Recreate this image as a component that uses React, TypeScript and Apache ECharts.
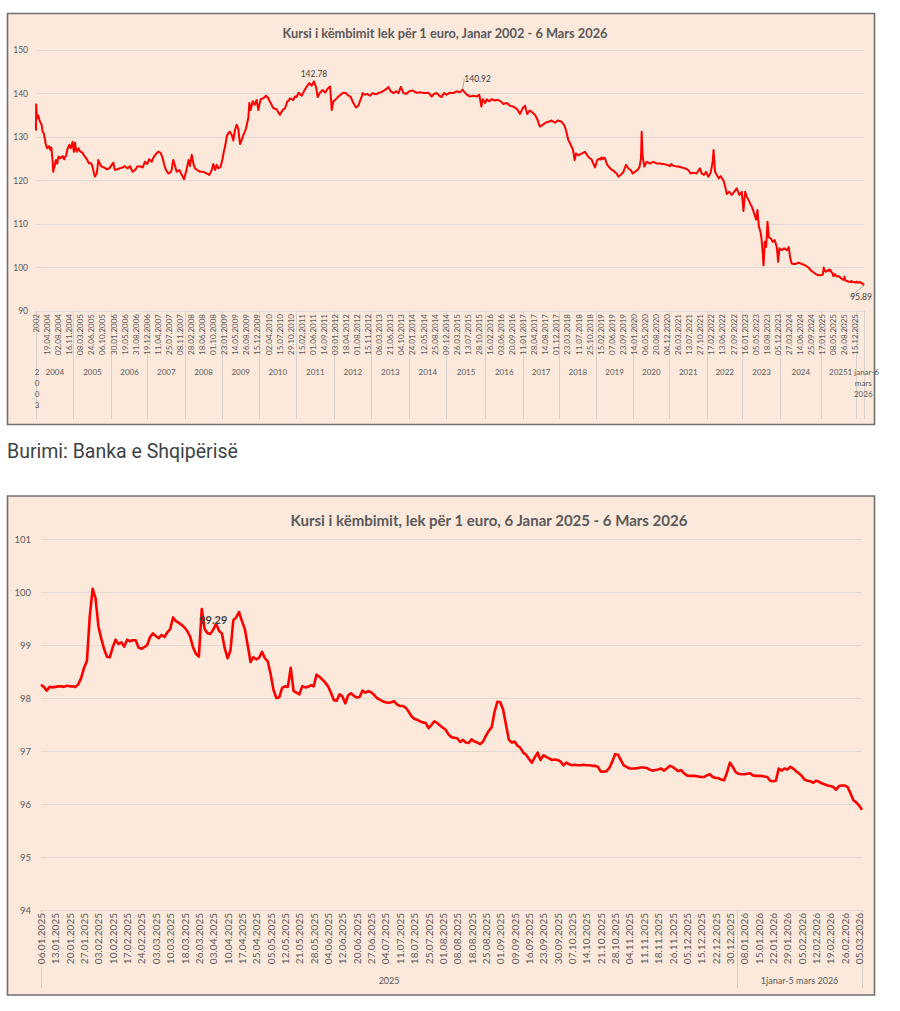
import React, { useEffect, useRef } from 'react';
import * as echarts from 'echarts';

const TOP_TITLE = 'Kursi i këmbimit lek për 1 euro, Janar 2002 - 6 Mars 2026';
const BOTTOM_TITLE = 'Kursi i këmbimit, lek për 1 euro, 6 Janar 2025 - 6 Mars 2026';
const SOURCE = 'Burimi: Banka e Shqipërisë';

// ---------- Top chart (2002 - 6 Mars 2026), x = observation index ----------
const TOP_STEP = 75;
const TOP_LAST = 5609;
const topDateLabels = ['2002','19.04.2004','02.08.2004','16.11.2004','08.03.2005','24.06.2005','06.10.2005','30.01.2006','19.05.2006','31.08.2006','19.12.2006','11.04.2007','25.07.2007','08.11.2007','28.02.2008','18.06.2008','01.10.2008','23.01.2009','14.05.2009','26.08.2009','15.12.2009','02.04.2010','15.07.2010','29.10.2010','15.02.2011','01.06.2011','14.09.2011','03.01.2012','18.04.2012','01.08.2012','15.11.2012','06.03.2013','21.06.2013','04.10.2013','24.01.2014','12.05.2014','25.08.2014','09.12.2014','26.03.2015','13.07.2015','28.10.2015','16.02.2016','03.06.2016','20.09.2016','11.01.2017','28.04.2017','14.08.2017','01.12.2017','23.03.2018','11.07.2018','25.10.2018','15.02.2019','07.06.2019','23.09.2019','14.01.2020','06.05.2020','20.08.2020','04.12.2020','26.03.2021','13.07.2021','27.10.2021','17.02.2022','13.06.2022','27.09.2022','16.01.2023','05.05.2023','18.08.2023','05.12.2023','27.03.2024','14.06.2024','25.09.2024','17.01.2025','08.05.2025','26.08.2025','15.12.2025'];
const topYearBounds = [0, 255, 510, 757, 1009, 1262, 1511, 1765, 2019, 2273, 2527, 2781, 3046, 3298, 3546, 3795, 4044, 4292, 4545, 4786, 5044, 5318, 5558, 5609];
const topYearNames = ['2\n0\n0\n3','2004','2005','2006','2007','2008','2009','2010','2011','2012','2013','2014','2015','2016','2017','2018','2019','2020','2021','2022','2023','2024','2025','1 janar-6\nmars\n2026'];
const topYearTicks = [8, 127.5, 382.5, 633.5, 883, 1135.5, 1386.5, 1638, 1892, 2146, 2400, 2654, 2913.5, 3172, 3422, 3670.5, 3919.5, 4168, 4418.5, 4665.5, 4915, 5181, 5435, 5604];
const topMarked = [142.78, 140.92, 95.89];

const topRate: [number, number][] = [[0,131.5],[1,137.5],[5,135.2],[9,134.3],[14,135.0],[18,134.7],[23,134.0],[27,133.5],[33,133.2],[38,132.8],[45,131.2],[50,131.0],[54,130.7],[58,129.8],[61,129.5],[65,128.5],[68,128.2],[73,127.6],[77,127.4],[84,127.7],[90,127.9],[95,127.3],[99,127.0],[104,127.6],[108,127.6],[112,124.7],[117,122.0],[121,122.8],[126,123.2],[131,124.2],[135,124.7],[140,124.2],[144,123.9],[149,125.0],[153,125.5],[160,125.1],[167,125.1],[174,125.5],[181,125.6],[187,125.0],[192,124.9],[198,125.5],[203,125.6],[209,126.6],[215,127.4],[220,127.8],[226,128.2],[231,127.6],[235,127.4],[241,128.0],[248,128.9],[253,127.5],[257,126.6],[261,127.8],[264,128.7],[270,127.4],[276,126.6],[282,127.0],[289,127.4],[296,126.8],[303,126.6],[310,126.5],[316,126.3],[324,125.8],[332,125.5],[340,125.1],[348,124.7],[354,124.2],[361,123.9],[369,124.0],[377,123.8],[383,123.1],[388,122.4],[394,121.5],[400,120.9],[406,121.3],[411,121.6],[417,123.0],[422,124.7],[428,124.2],[434,123.8],[440,123.4],[445,123.2],[453,123.1],[461,123.0],[470,122.8],[479,122.6],[488,122.7],[497,122.8],[505,123.2],[513,123.6],[519,123.9],[524,124.1],[530,123.0],[535,122.4],[543,122.5],[551,122.6],[560,122.7],[569,122.8],[578,122.9],[587,123.0],[595,123.2],[603,123.3],[611,123.0],[619,122.8],[628,123.0],[637,123.3],[646,122.6],[655,122.0],[663,122.2],[671,122.4],[679,122.8],[686,123.2],[695,123.2],[704,123.3],[714,123.1],[723,123.0],[731,123.7],[738,124.3],[746,124.0],[754,123.8],[760,124.4],[767,124.9],[776,124.6],[784,124.3],[792,125.0],[799,125.5],[806,125.8],[813,126.1],[821,126.4],[829,126.6],[837,126.5],[845,126.3],[852,125.7],[858,125.1],[863,124.4],[867,123.8],[874,123.1],[881,122.4],[889,122.0],[896,121.6],[902,121.7],[908,121.8],[914,122.1],[919,122.4],[925,123.8],[930,124.7],[936,124.0],[942,123.3],[948,122.6],[953,122.0],[962,122.2],[971,122.4],[979,121.9],[987,121.3],[995,120.8],[1003,120.3],[1010,121.2],[1016,122.0],[1021,122.7],[1025,123.3],[1030,124.0],[1034,124.7],[1039,124.0],[1043,123.3],[1049,124.6],[1055,125.9],[1061,124.9],[1066,123.9],[1071,123.3],[1077,122.8],[1085,122.6],[1093,122.4],[1102,122.2],[1111,122.0],[1122,122.0],[1134,122.0],[1145,121.8],[1156,121.6],[1165,121.5],[1174,121.3],[1182,121.8],[1190,122.4],[1196,123.1],[1201,123.8],[1207,123.1],[1213,122.4],[1219,123.0],[1224,123.6],[1230,123.2],[1235,122.8],[1243,123.0],[1251,123.2],[1257,124.0],[1262,124.7],[1268,125.8],[1274,126.9],[1279,127.6],[1283,128.2],[1288,129.2],[1292,130.1],[1298,130.5],[1303,130.9],[1309,131.1],[1314,131.2],[1320,130.8],[1326,130.5],[1332,129.8],[1337,129.2],[1342,130.4],[1348,131.6],[1354,132.2],[1359,132.8],[1365,132.4],[1370,132.0],[1376,130.2],[1382,128.4],[1388,128.8],[1393,129.3],[1399,129.9],[1405,130.5],[1414,131.2],[1423,132.0],[1430,133.1],[1438,134.3],[1442,136.0],[1445,137.8],[1450,137.0],[1454,136.2],[1461,137.2],[1468,138.2],[1474,137.8],[1481,137.4],[1488,138.0],[1495,138.5],[1500,137.4],[1506,136.2],[1514,137.5],[1522,138.7],[1531,138.8],[1540,138.9],[1549,139.2],[1558,139.5],[1566,139.2],[1574,138.9],[1582,138.3],[1590,137.8],[1599,137.2],[1608,136.6],[1619,136.5],[1630,136.4],[1641,135.7],[1653,135.1],[1662,135.7],[1671,136.2],[1679,136.4],[1687,136.6],[1695,137.4],[1702,138.2],[1709,138.2],[1716,138.6],[1721,138.9],[1732,138.7],[1743,138.5],[1754,139.3],[1766,139.2],[1777,140.1],[1784,140.1],[1792,139.7],[1800,139.5],[1808,140.0],[1815,140.5],[1825,141.1],[1834,141.6],[1843,142.0],[1851,142.4],[1859,142.1],[1867,141.8],[1875,142.3],[1883,142.78],[1890,142.1],[1897,141.5],[1903,140.3],[1908,139.2],[1916,139.7],[1924,140.2],[1933,140.5],[1942,140.8],[1950,140.5],[1958,140.2],[1966,140.6],[1973,141.0],[1982,141.3],[1992,141.6],[1998,139.0],[2003,136.2],[2009,137.2],[2014,138.2],[2023,138.4],[2032,138.7],[2040,139.0],[2048,139.3],[2056,139.5],[2064,139.7],[2073,140.0],[2082,140.2],[2091,140.1],[2100,140.1],[2108,139.8],[2116,139.5],[2124,139.4],[2132,139.2],[2141,138.5],[2150,137.8],[2159,137.3],[2168,136.8],[2176,137.0],[2184,137.2],[2192,138.0],[2200,138.7],[2207,139.4],[2213,140.1],[2221,139.9],[2229,139.7],[2236,139.8],[2244,139.9],[2253,139.7],[2263,139.5],[2272,139.8],[2281,140.1],[2292,139.9],[2303,139.8],[2314,140.0],[2326,140.2],[2337,140.3],[2348,140.5],[2360,140.7],[2371,141.0],[2379,141.2],[2387,141.5],[2395,141.0],[2403,140.5],[2412,140.3],[2420,140.1],[2430,140.3],[2439,140.5],[2447,140.3],[2455,140.1],[2463,140.8],[2472,141.5],[2480,140.8],[2488,140.2],[2497,140.0],[2506,139.9],[2518,140.2],[2529,140.5],[2540,140.6],[2551,140.7],[2565,140.4],[2579,140.2],[2590,140.2],[2601,140.3],[2615,140.2],[2628,140.1],[2643,140.1],[2658,140.2],[2669,139.8],[2680,139.3],[2688,139.6],[2696,139.9],[2705,140.0],[2714,140.1],[2723,139.8],[2732,139.5],[2740,139.3],[2748,139.2],[2756,139.7],[2764,140.1],[2773,139.9],[2782,139.7],[2793,140.0],[2804,140.2],[2816,140.1],[2827,140.1],[2838,140.3],[2850,140.5],[2861,140.4],[2872,140.3],[2881,140.6],[2890,140.92],[2898,140.5],[2906,140.2],[2914,139.9],[2921,139.7],[2930,139.5],[2939,139.3],[2950,139.4],[2962,139.5],[2973,139.4],[2985,139.3],[2994,139.5],[3003,139.7],[3010,138.4],[3017,137.0],[3022,137.9],[3026,138.7],[3034,138.3],[3042,137.8],[3048,138.2],[3053,138.7],[3062,138.4],[3071,138.2],[3079,138.5],[3087,138.7],[3098,138.5],[3109,138.4],[3120,138.5],[3132,138.5],[3140,138.3],[3148,138.2],[3157,137.9],[3166,137.6],[3177,137.7],[3189,137.8],[3200,137.5],[3211,137.2],[3222,137.1],[3233,137.0],[3246,136.7],[3260,136.4],[3270,135.8],[3279,135.3],[3288,136.0],[3297,136.6],[3305,136.9],[3313,137.2],[3320,136.2],[3328,135.3],[3337,135.7],[3346,136.1],[3356,135.8],[3365,135.6],[3372,135.3],[3380,135.1],[3388,134.6],[3396,134.1],[3405,133.2],[3414,132.4],[3424,132.6],[3433,132.8],[3440,133.0],[3448,133.2],[3460,133.4],[3471,133.5],[3482,133.6],[3493,133.8],[3505,133.5],[3516,133.3],[3527,133.6],[3538,133.8],[3550,133.6],[3561,133.5],[3569,133.1],[3577,132.8],[3584,132.2],[3590,131.6],[3598,130.4],[3606,129.3],[3614,128.8],[3622,128.2],[3629,127.7],[3636,127.2],[3643,126.0],[3649,124.7],[3654,125.5],[3658,126.2],[3666,126.0],[3674,125.8],[3685,126.0],[3696,126.2],[3708,126.4],[3719,126.6],[3730,126.0],[3741,125.5],[3752,125.1],[3764,124.8],[3775,123.9],[3787,123.0],[3795,123.9],[3802,124.7],[3812,125.0],[3821,124.8],[3830,125.3],[3839,124.9],[3846,125.2],[3855,125.1],[3862,124.3],[3870,123.6],[3880,123.2],[3889,122.8],[3900,122.5],[3911,122.3],[3922,121.9],[3934,121.6],[3940,121.2],[3945,120.9],[3953,121.1],[3961,121.3],[3970,121.6],[3979,122.0],[3988,122.8],[3997,123.6],[4005,123.2],[4012,122.8],[4020,122.6],[4028,122.4],[4035,122.0],[4042,121.6],[4050,121.8],[4058,122.0],[4066,122.2],[4073,122.4],[4080,122.7],[4087,123.0],[4093,124.0],[4098,125.1],[4101,128.5],[4103,131.2],[4106,128.0],[4110,125.5],[4115,124.4],[4121,123.2],[4129,123.8],[4137,124.3],[4148,124.1],[4159,123.9],[4170,124.1],[4182,124.3],[4193,124.1],[4205,123.9],[4216,123.9],[4227,123.9],[4238,123.8],[4250,123.8],[4261,123.7],[4272,123.6],[4283,123.5],[4295,123.3],[4303,123.8],[4312,123.5],[4320,123.4],[4329,123.3],[4340,123.2],[4352,123.2],[4363,123.1],[4374,123.0],[4385,122.9],[4397,122.8],[4408,122.6],[4419,122.4],[4427,122.0],[4435,121.6],[4444,121.7],[4453,121.8],[4464,121.7],[4475,121.6],[4486,122.2],[4498,122.8],[4504,122.2],[4509,121.6],[4517,121.5],[4525,121.3],[4532,121.6],[4539,122.0],[4547,121.4],[4554,120.9],[4562,121.3],[4570,121.8],[4577,123.0],[4584,124.3],[4590,127.0],[4595,124.5],[4600,122.0],[4606,121.6],[4611,121.3],[4618,120.9],[4625,120.5],[4632,120.8],[4638,121.0],[4647,120.5],[4656,120.1],[4662,119.4],[4668,118.7],[4674,117.8],[4679,116.9],[4688,117.2],[4697,117.4],[4705,117.0],[4713,116.7],[4721,117.0],[4729,117.4],[4738,117.8],[4747,118.2],[4756,117.4],[4765,116.7],[4773,117.0],[4781,117.4],[4787,115.2],[4792,113.0],[4798,115.2],[4804,117.4],[4810,116.8],[4815,116.3],[4824,115.7],[4833,115.1],[4841,114.5],[4849,114.0],[4857,113.2],[4865,112.4],[4872,111.7],[4878,111.0],[4883,112.1],[4887,113.2],[4892,111.3],[4897,109.4],[4904,108.6],[4910,107.8],[4915,106.5],[4919,105.1],[4924,102.8],[4928,100.5],[4933,103.2],[4937,105.9],[4942,105.3],[4946,104.7],[4951,107.6],[4955,110.5],[4960,108.8],[4964,107.0],[4970,106.8],[4977,106.7],[4984,106.3],[4991,105.9],[4998,106.1],[5004,106.3],[5011,105.5],[5018,104.7],[5023,103.0],[5027,101.3],[5032,102.8],[5036,104.4],[5044,104.2],[5052,104.0],[5060,104.2],[5068,104.4],[5077,104.2],[5086,104.0],[5093,104.3],[5099,104.7],[5104,103.5],[5108,102.4],[5114,101.6],[5119,100.9],[5131,100.8],[5142,100.8],[5153,100.9],[5164,101.1],[5176,101.0],[5187,100.8],[5198,100.7],[5209,100.5],[5220,100.3],[5232,100.0],[5243,99.6],[5254,99.2],[5266,98.9],[5277,98.6],[5288,98.4],[5299,98.2],[5308,98.3],[5318,98.2],[5325,98.25],[5331,98.5],[5336,100.0],[5340,99.6],[5344,99.2],[5351,99.0],[5358,99.2],[5366,99.45],[5372,99.2],[5378,99.5],[5384,99.3],[5390,98.8],[5396,98.7],[5401,98.0],[5406,98.2],[5412,98.5],[5418,98.1],[5424,97.95],[5432,98.05],[5440,97.9],[5446,97.8],[5452,97.55],[5458,97.45],[5464,97.25],[5471,97.15],[5474,97.3],[5477,97.9],[5480,97.3],[5484,97.1],[5488,96.9],[5494,96.9],[5500,96.8],[5508,96.73],[5516,96.72],[5520,96.62],[5524,96.9],[5530,96.7],[5538,96.68],[5546,96.62],[5552,96.5],[5556,96.45],[5558,96.78],[5562,96.56],[5570,96.52],[5574,96.44],[5576,96.67],[5582,96.65],[5588,96.45],[5594,96.4],[5599,96.33],[5602,96.3],[5605,96.1],[5609,95.89]];

// ---------- Bottom chart (6 Janar 2025 - 6 Mars 2026), x = business-day index ----------
const BOTTOM_STEP = 5;
const BOTTOM_LAST = 286;
const bottomDateLabels = ['06.01.2025','13.01.2025','20.01.2025','27.01.2025','03.02.2025','10.02.2025','17.02.2025','24.02.2025','03.03.2025','10.03.2025','18.03.2025','26.03.2025','03.04.2025','10.04.2025','17.04.2025','25.04.2025','05.05.2025','12.05.2025','21.05.2025','28.05.2025','04.06.2025','12.06.2025','20.06.2025','27.06.2025','04.07.2025','11.07.2025','18.07.2025','25.07.2025','01.08.2025','08.08.2025','18.08.2025','25.08.2025','01.09.2025','09.09.2025','16.09.2025','23.09.2025','30.09.2025','07.10.2025','14.10.2025','21.10.2025','28.10.2025','04.11.2025','11.11.2025','18.11.2025','26.11.2025','05.12.2025','15.12.2025','22.12.2025','30.12.2025','08.01.2026','15.01.2026','22.01.2026','29.01.2026','05.02.2026','12.02.2026','19.02.2026','26.02.2026','05.03.2026'];
const bottomYearBounds = [0, 242.5, 286];
const bottomYearTicks = [121.25, 264.25];
const bottomYearNames = ['2025', '1janar-5 mars 2026'];
const bottomMarked = [99.29];

const bottomRate = [
  98.25,98.21,98.14,98.21,98.20,98.21,98.22,98.22,98.21,98.23,
  98.22,98.22,98.21,98.26,98.38,98.57,98.70,99.55,100.06,99.88,
  99.35,99.12,98.92,98.78,98.77,98.96,99.10,99.02,99.05,98.97,
  99.10,99.07,99.09,99.09,98.95,98.93,98.96,99.00,99.15,99.22,
  99.17,99.13,99.19,99.15,99.24,99.30,99.52,99.45,99.42,99.38,
  99.33,99.26,99.15,98.95,98.83,98.78,99.68,99.30,99.22,99.21,
  99.29,99.40,99.27,99.22,98.94,98.75,98.90,99.47,99.52,99.62,
  99.45,99.30,99.00,98.68,98.77,98.73,98.76,98.87,98.75,98.69,
  98.45,98.15,98.00,98.01,98.19,98.22,98.21,98.57,98.13,98.10,
  98.07,98.22,98.20,98.21,98.24,98.22,98.44,98.40,98.35,98.29,
  98.22,98.10,97.96,97.95,98.07,98.03,97.90,98.05,98.09,98.04,
  98.01,98.02,98.14,98.10,98.13,98.11,98.06,98.00,97.97,97.94,
  97.92,97.91,97.92,97.94,97.88,97.85,97.85,97.82,97.75,97.66,
  97.61,97.59,97.56,97.54,97.53,97.43,97.49,97.56,97.53,97.48,
  97.44,97.40,97.31,97.26,97.25,97.24,97.17,97.21,97.16,97.15,
  97.22,97.18,97.16,97.13,97.18,97.29,97.38,97.45,97.74,97.93,
  97.92,97.78,97.49,97.21,97.16,97.18,97.10,97.06,96.97,96.93,
  96.85,96.78,96.88,96.97,96.83,96.92,96.89,96.86,96.83,96.84,
  96.83,96.80,96.73,96.78,96.75,96.73,96.74,96.73,96.73,96.74,
  96.73,96.73,96.72,96.72,96.70,96.61,96.61,96.62,96.68,96.80,
  96.94,96.93,96.83,96.73,96.70,96.67,96.67,96.67,96.68,96.69,
  96.69,96.68,96.65,96.63,96.64,96.65,96.67,96.63,96.67,96.72,
  96.70,96.66,96.62,96.64,96.58,96.54,96.53,96.53,96.53,96.52,
  96.51,96.51,96.54,96.56,96.51,96.49,96.49,96.46,96.45,96.60,
  96.78,96.70,96.60,96.57,96.56,96.56,96.57,96.58,96.54,96.53,
  96.53,96.53,96.52,96.51,96.44,96.43,96.44,96.67,96.63,96.67,
  96.65,96.70,96.67,96.62,96.58,96.53,96.46,96.44,96.43,96.40,
  96.44,96.42,96.39,96.37,96.35,96.34,96.32,96.27,96.34,96.35,
  96.35,96.32,96.20,96.07,96.03,95.97,95.89,
];

// ---------- styling ----------
const PANEL_BG = '#fce9dc';
const PANEL_EDGE = '#707070';
const GRID_LINE = '#e2dad2';
const SEP_LINE = '#d8d0c9';
const TXT = '#595959';
const RED = '#ff0000';
const FONT = 'Lato';

const near = (a: number, b: number) => Math.abs(a - b) < 1e-6;
const stepLabel = (list: string[], step: number) => (v: number) => {
  const k = Math.round(v / step);
  return near(v, k * step) && k >= 0 && k < list.length ? list[k] : '';
};
const pickLabel = (ticks: number[], names: string[]) => (v: number) => {
  const i = ticks.findIndex((t) => near(t, v));
  return i >= 0 ? names[i] : '';
};

function buildOption(): any {
  const topData = topRate.map(([x, y]) => {
    if (!topMarked.includes(y)) return [x, y];
    const isEnd = y === 95.89;
    return {
      value: [x, y],
      label: {
        show: true,
        position: isEnd ? 'bottom' : 'top',
        distance: isEnd ? 5 : 3,
        fontSize: 8.5,
        color: '#404040',
        fontFamily: FONT,
        formatter: (p: any) => p.value[1].toFixed(2),
      },
      labelLine: y === 142.78 ? { show: false } : { show: true, lineStyle: { color: '#9a9a9a', width: 0.8 } },
    };
  });
  const bottomData = bottomRate.map((y, i) => {
    if (!bottomMarked.includes(y)) return [i, y];
    return {
      value: [i, y],
      label: {
        show: true,
        position: 'top',
        distance: 5,
        fontSize: 11,
        fontWeight: 'bold',
        color: '#404040',
        fontFamily: FONT,
        formatter: (p: any) => p.value[1].toFixed(2),
      },
    };
  });

  return {
    animation: false,
    textStyle: { fontFamily: FONT },
    graphic: [
      { type: 'rect', z: -10, silent: true, shape: { x: 7.5, y: 13.5, width: 867, height: 411 }, style: { fill: PANEL_BG, stroke: PANEL_EDGE, lineWidth: 1.6 } },
      { type: 'rect', z: -10, silent: true, shape: { x: 7.5, y: 496, width: 867, height: 499 }, style: { fill: PANEL_BG, stroke: PANEL_EDGE, lineWidth: 1.6 } },
      { type: 'text', x: 445, y: 33, style: { text: TOP_TITLE, fontSize: 12.8, fontWeight: 'bold', fontFamily: FONT, fill: TXT, align: 'center', verticalAlign: 'middle', textAlign: 'center', textVerticalAlign: 'middle' } },
      { type: 'text', x: 489, y: 520, style: { text: BOTTOM_TITLE, fontSize: 15, fontWeight: 'bold', fontFamily: FONT, fill: TXT, align: 'center', verticalAlign: 'middle', textAlign: 'center', textVerticalAlign: 'middle' } },
      { type: 'text', x: 7, y: 451, style: { text: SOURCE, fontSize: 19.5, fontFamily: 'Roboto', fill: '#3d4249', align: 'left', verticalAlign: 'middle', textAlign: 'left', textVerticalAlign: 'middle' } },
    ],
    grid: [
      { left: 36, top: 50, width: 828, height: 261 },
      { left: 41, top: 539, width: 821, height: 371 },
    ],
    xAxis: [
      {
        type: 'value', gridIndex: 0, min: 0, max: TOP_LAST, interval: TOP_STEP,
        axisLine: { show: true, lineStyle: { color: GRID_LINE } },
        axisTick: { show: false }, splitLine: { show: false },
        axisLabel: { rotate: 90, fontSize: 8, color: TXT, margin: 3, showMinLabel: true, formatter: stepLabel(topDateLabels, TOP_STEP) },
      },
      {
        type: 'value', gridIndex: 0, min: 0, max: TOP_LAST, position: 'bottom', offset: 0,
        axisLine: { show: false }, splitLine: { show: false },
        axisTick: { show: true, customValues: topYearBounds, length: 108, lineStyle: { color: SEP_LINE } },
        axisLabel: { customValues: topYearTicks, showMinLabel: true, showMaxLabel: true, hideOverlap: false, fontSize: 8, lineHeight: 11, color: TXT, margin: 55, formatter: pickLabel(topYearTicks, topYearNames) },
      },
      {
        type: 'value', gridIndex: 1, min: 0, max: BOTTOM_LAST, interval: BOTTOM_STEP,
        axisLine: { show: true, lineStyle: { color: GRID_LINE } },
        axisTick: { show: false }, splitLine: { show: false },
        axisLabel: { rotate: 90, fontSize: 10, color: TXT, margin: 3, showMinLabel: true, formatter: stepLabel(bottomDateLabels, BOTTOM_STEP) },
      },
      {
        type: 'value', gridIndex: 1, min: 0, max: BOTTOM_LAST, position: 'bottom', offset: 0,
        axisLine: { show: false }, splitLine: { show: false },
        axisTick: { show: true, customValues: bottomYearBounds, length: 78, lineStyle: { color: SEP_LINE } },
        axisLabel: { customValues: bottomYearTicks, showMinLabel: true, showMaxLabel: true, hideOverlap: false, fontSize: 9, lineHeight: 11, color: TXT, margin: 65, formatter: pickLabel(bottomYearTicks, bottomYearNames) },
      },
    ],
    yAxis: [
      {
        type: 'value', gridIndex: 0, min: 90, max: 150, interval: 10,
        axisLine: { show: false }, axisTick: { show: false },
        splitLine: { show: true, lineStyle: { color: GRID_LINE, width: 1 } },
        axisLabel: { fontSize: 8.5, color: TXT, margin: 8 },
      },
      {
        type: 'value', gridIndex: 1, min: 94, max: 101, interval: 1,
        axisLine: { show: false }, axisTick: { show: false },
        splitLine: { show: true, lineStyle: { color: GRID_LINE, width: 1 } },
        axisLabel: { fontSize: 9.5, color: TXT, margin: 10 },
      },
    ],
    series: [
      {
        type: 'line', xAxisIndex: 0, yAxisIndex: 0, data: topData,
        symbol: 'circle', symbolSize: 0, showSymbol: true, showAllSymbol: true,
        lineStyle: { color: RED, width: 2, join: 'round' }, itemStyle: { color: RED },
        label: { show: false },
        labelLayout: (p: any) => {
          const y = topRate[p.dataIndex] ? topRate[p.dataIndex][1] : null;
          if (y === 140.92) return { dx: 15, dy: -3 };
          if (y === 95.89) return { dx: -3, dy: 2 };
          return {};
        },
        emphasis: { disabled: true }, silent: true,
      },
      {
        type: 'line', xAxisIndex: 2, yAxisIndex: 1, data: bottomData,
        symbol: 'circle', symbolSize: 0, showSymbol: true, showAllSymbol: true,
        lineStyle: { color: RED, width: 2.6, join: 'round' }, itemStyle: { color: RED },
        label: { show: false },
        emphasis: { disabled: true }, silent: true,
      },
    ],
  };
}

export default function App() {
  const ref = useRef<HTMLDivElement>(null);
  useEffect(() => {
    if (!ref.current) return;
    const chart = echarts.init(ref.current, null, { renderer: 'svg' });
    chart.setOption(buildOption());
    return () => chart.dispose();
  }, []);
  return (
    <div
      ref={ref}
      style={{ position: 'absolute', left: 0, top: 0, width: 900, height: 1011, background: '#ffffff' }}
    />
  );
}
